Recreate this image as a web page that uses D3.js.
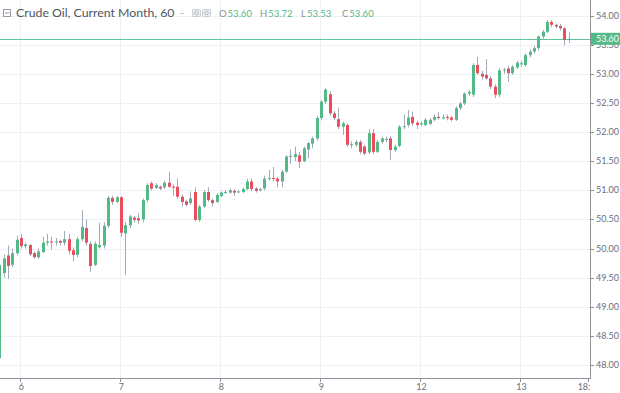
<!DOCTYPE html>
<html>
<head>
<meta charset="utf-8">
<script src="https://cdn.jsdelivr.net/npm/d3@7"></script>
<style>
  html, body { margin: 0; padding: 0; background: #fff; overflow: hidden; }
  text { font-family: Lato, "Open Sans", sans-serif; }
</style>
</head>
<body>
<svg id="chart" width="620" height="393"></svg>
<script>
// hourly candles, index 0 = first hour of day 6 (first five belong to day 5)
const firstIndex = -5;
const opens = [48.12,49.58,49.88,49.72,49.92,
  50.18,50.04,50.06,49.92,49.85,49.94,50.10,50.12,50.11,50.13,50.10,50.16,49.97,49.89,50.16,50.35,50.08,49.72,50.02,50.05,50.39,50.87,50.80,
  50.88,50.26,50.40,50.53,50.52,50.50,50.83,51.12,51.04,51.06,51.05,51.13,51.06,51.06,50.89,50.81,50.78,50.97,50.49,50.72,50.97,50.83,50.80,
  50.90,50.96,50.96,50.99,50.97,50.97,51.02,51.15,51.03,51.01,51.03,51.20,51.21,51.20,51.15,51.32,51.58,51.57,51.60,51.50,51.70,51.80,51.89,
  52.24,52.52,52.65,52.32,52.22,52.09,52.12,51.78,51.78,51.83,51.75,51.65,51.98,51.66,51.83,51.87,51.89,51.69,51.76,52.09,52.12,52.26,52.16,
  52.14,52.12,52.14,52.21,52.26,52.25,52.26,52.25,52.21,52.41,52.49,52.66,52.64,53.15,53.00,52.98,52.92,52.78,52.64,53.06,53.09,53.01,53.11,
  53.18,53.15,53.32,53.38,53.44,53.64,53.72,53.89,53.84,53.82,53.78,53.60];
const highs = [49.76,49.90,50.05,50.00,50.22,
  50.25,50.10,50.08,49.95,50.00,50.20,50.25,50.20,50.18,50.15,50.30,50.25,50.02,50.20,50.66,50.50,50.12,50.12,50.44,50.45,50.90,50.90,50.90,
  50.90,50.45,50.58,50.56,50.60,50.86,51.12,51.15,51.12,51.08,51.16,51.32,51.10,51.20,50.92,50.84,50.98,51.05,50.75,51.00,51.05,50.86,50.95,
  50.98,51.00,51.03,51.02,51.00,51.05,51.20,51.20,51.05,51.04,51.25,51.35,51.40,51.23,51.35,51.60,51.70,51.75,51.66,51.75,51.83,51.92,52.28,
  52.55,52.75,52.70,52.36,52.42,52.18,52.15,51.84,51.86,51.86,51.78,52.05,52.05,51.86,51.92,51.92,51.93,51.78,52.12,52.30,52.38,52.35,52.19,
  52.18,52.24,52.24,52.30,52.34,52.30,52.30,52.28,52.44,52.52,52.68,52.72,53.18,53.29,53.05,53.25,52.96,52.82,53.10,53.10,53.14,53.15,53.22,
  53.22,53.35,53.42,53.48,53.66,53.75,53.92,53.92,53.86,53.85,53.80,53.72];
const lows = [48.10,49.50,49.48,49.68,49.88,
  50.00,50.00,49.87,49.83,49.82,49.92,50.05,49.98,50.05,50.05,50.05,49.90,49.78,49.85,50.12,50.05,49.60,49.70,50.00,50.00,50.35,50.75,50.78,
  50.20,49.55,50.35,50.45,50.42,50.45,50.80,51.00,51.02,51.00,51.02,51.04,50.90,50.85,50.72,50.72,50.75,50.47,50.46,50.70,50.80,50.72,50.78,
  50.88,50.94,50.94,50.90,50.95,50.95,51.00,50.98,50.96,50.98,51.00,51.17,51.15,51.05,51.05,51.30,51.45,51.50,51.38,51.48,51.55,51.72,51.85,
  52.20,52.48,52.28,52.20,52.05,51.95,51.74,51.72,51.74,51.62,51.60,51.62,51.62,51.64,51.80,51.82,51.52,51.66,51.74,52.05,52.08,52.10,52.05,
  52.10,52.10,52.12,52.18,52.22,52.22,52.20,52.18,52.19,52.38,52.46,52.62,52.60,52.98,52.90,52.90,52.74,52.58,52.60,53.00,52.86,52.98,53.08,
  53.12,53.12,53.28,53.35,53.40,53.60,53.70,53.80,53.78,53.74,53.49,53.53];
const closes = [49.72,49.83,49.70,49.92,50.15,
  50.04,50.07,49.90,49.85,49.95,50.10,50.12,50.11,50.12,50.10,50.16,49.96,49.89,50.16,50.37,50.10,49.70,50.08,50.06,50.39,50.87,50.80,50.88,
  50.27,50.40,50.55,50.49,50.48,50.83,51.09,51.03,51.09,51.03,51.13,51.06,51.05,50.89,50.80,50.75,50.86,50.49,50.72,50.97,50.83,50.78,50.92,
  50.96,50.97,51.00,50.96,50.98,51.02,51.15,51.02,50.99,51.02,51.20,51.21,51.20,51.15,51.32,51.58,51.59,51.62,51.49,51.72,51.81,51.89,52.24,
  52.52,52.73,52.32,52.24,52.09,52.15,51.78,51.79,51.83,51.66,51.63,51.98,51.66,51.83,51.89,51.88,51.69,51.75,52.09,52.10,52.25,52.15,52.12,
  52.15,52.21,52.21,52.26,52.24,52.25,52.24,52.21,52.41,52.49,52.66,52.69,53.15,53.01,52.95,52.92,52.78,52.64,53.06,53.07,53.01,53.12,53.19,
  53.18,53.32,53.38,53.44,53.64,53.72,53.89,53.84,53.81,53.78,53.58,53.60];

const dayLabels = ["6", "7", "8", "9", "12", "13", "18:00"];
const dayIndex = [0, 23, 46, 69, 92, 115, 130.6];
const priceTicks = [48.0, 48.5, 49.0, 49.5, 50.0, 50.5, 51.0, 51.5, 52.0, 52.5, 53.0, 53.5, 54.0];
const lastPrice = 53.60;
const title = "Crude Oil, Current Month, 60";
const legendKeys = ["O", "H", "L", "C"];
const legendValues = ["53.60", "53.72", "53.53", "53.60"];

const UP = "#53b987", DOWN = "#eb4d5c", WICK = "#a3abb9";
const W = 620, H = 393, plotRight = 590, plotBottom = 378;

const svg = d3.select("#chart");
const x = d3.scaleLinear().domain([0, 115]).range([21.4, 521.4]);
const y = d3.scaleLinear().domain([48, 54]).range([365, 15.5]);

const candles = closes.map((c, k) => ({
  i: k + firstIndex, o: opens[k], h: highs[k], l: lows[k], c: c
}));

const defs = svg.append("defs");
defs.append("clipPath").attr("id", "plot")
  .append("rect").attr("x", 0).attr("y", 0).attr("width", plotRight).attr("height", plotBottom);
defs.append("clipPath").attr("id", "xclip")
  .append("rect").attr("x", 0).attr("y", plotBottom).attr("width", plotRight).attr("height", H - plotBottom);

// grid
const grid = svg.append("g").attr("clip-path", "url(#plot)");
grid.selectAll("line.h").data(priceTicks).join("line")
  .attr("x1", 0).attr("x2", plotRight)
  .attr("y1", d => Math.round(y(d)) + 0.5).attr("y2", d => Math.round(y(d)) + 0.5)
  .attr("stroke", "#edf0f4");
grid.selectAll("line.v").data(dayIndex.slice(0, 6)).join("line")
  .attr("x1", d => Math.round(x(d)) - 0.5).attr("x2", d => Math.round(x(d)) - 0.5)
  .attr("y1", 0).attr("y2", plotBottom)
  .attr("stroke", "#edf0f4");

// last price line
grid.append("line")
  .attr("x1", 0).attr("x2", plotRight)
  .attr("y1", Math.round(y(lastPrice)) + 0.5).attr("y2", Math.round(y(lastPrice)) + 0.5)
  .attr("stroke", "#5fc49a");

// candles
const cg = svg.append("g").attr("clip-path", "url(#plot)");
const left = d => Math.round(x(d.i) - 1.5);
cg.selectAll("line.wick").data(candles).join("line")
  .attr("x1", d => left(d) + 1.5).attr("x2", d => left(d) + 1.5)
  .attr("y1", d => y(d.h)).attr("y2", d => y(d.l))
  .attr("stroke", WICK).attr("stroke-width", 1);
cg.selectAll("rect.body").data(candles).join("rect")
  .attr("x", left).attr("width", 3)
  .attr("y", d => y(Math.max(d.o, d.c)))
  .attr("height", d => Math.max(1, Math.abs(y(d.o) - y(d.c))))
  .attr("fill", d => d.c >= d.o ? UP : DOWN);

// axes
const ax = svg.append("g");
ax.append("line").attr("x1", plotRight + 0.5).attr("x2", plotRight + 0.5)
  .attr("y1", 0).attr("y2", plotBottom + 1).attr("stroke", "#8d929b");
ax.append("line").attr("x1", 0).attr("x2", plotRight + 1)
  .attr("y1", plotBottom + 0.5).attr("y2", plotBottom + 0.5).attr("stroke", "#8d929b");

ax.selectAll("line.yt").data(priceTicks).join("line")
  .attr("x1", plotRight).attr("x2", plotRight + 4)
  .attr("y1", d => Math.round(y(d)) + 0.5).attr("y2", d => Math.round(y(d)) + 0.5)
  .attr("stroke", "#8d929b");
ax.selectAll("text.yl").data(priceTicks).join("text")
  .attr("x", plotRight + 6).attr("y", d => y(d) + 3)
  .attr("font-size", 9).attr("fill", "#6b6f7a")
  .text(d3.format(".2f"));

const xt = ax.append("g").attr("clip-path", "url(#xclip)");
xt.selectAll("line").data(dayIndex).join("line")
  .attr("x1", d => Math.round(x(d)) - 0.5).attr("x2", d => Math.round(x(d)) - 0.5)
  .attr("y1", plotBottom).attr("y2", plotBottom + 4)
  .attr("stroke", "#8d929b");
xt.selectAll("text").data(dayIndex).join("text")
  .attr("x", d => x(d)).attr("y", plotBottom + 12)
  .attr("text-anchor", "middle").attr("font-size", 9).attr("fill", "#6b6f7a")
  .text((d, k) => dayLabels[k]);

// last price badge
const badge = svg.append("g");
badge.append("rect").attr("x", plotRight + 1).attr("y", y(lastPrice) - 6)
  .attr("width", W - plotRight - 1).attr("height", 12).attr("fill", "#53b987");
badge.append("text").attr("x", plotRight + 6).attr("y", y(lastPrice) + 3)
  .attr("font-size", 9).attr("fill", "#fff").text(d3.format(".2f")(lastPrice));

// header
const hd = svg.append("g");
hd.append("rect").attr("x", 3.5).attr("y", 9.5).attr("width", 7).attr("height", 7)
  .attr("fill", "none").attr("stroke", "#9a9ea8");
hd.append("line").attr("x1", 5).attr("x2", 9.5).attr("y1", 13).attr("y2", 13).attr("stroke", "#9a9ea8");
hd.append("text").attr("x", 16).attr("y", 17).attr("font-size", 12.3).attr("fill", "#50555e").text(title);
hd.append("line").attr("x1", 180).attr("x2", 184).attr("y1", 13.5).attr("y2", 13.5).attr("stroke", "#c4c7ce");
[192, 202].forEach(px => {
  hd.append("rect").attr("x", px + 0.5).attr("y", 9.5).attr("width", 8).attr("height", 7).attr("rx", 1)
    .attr("fill", "#eceef1").attr("stroke", "#c9ccd3");
  hd.append("circle").attr("cx", px + 4.5).attr("cy", 13).attr("r", 1.8).attr("fill", "none").attr("stroke", "#b4b8c0");
});
const lg = hd.selectAll("text.leg").data(legendKeys).join("text")
  .attr("x", (d, k) => 219 + k * 41).attr("y", 17).attr("font-size", 9.5);
lg.append("tspan").attr("fill", "#8a8f99").text(d => d);
lg.append("tspan").attr("dx", 1).attr("fill", "#53b987").text((d, k) => legendValues[k]);
</script>
</body>
</html>
